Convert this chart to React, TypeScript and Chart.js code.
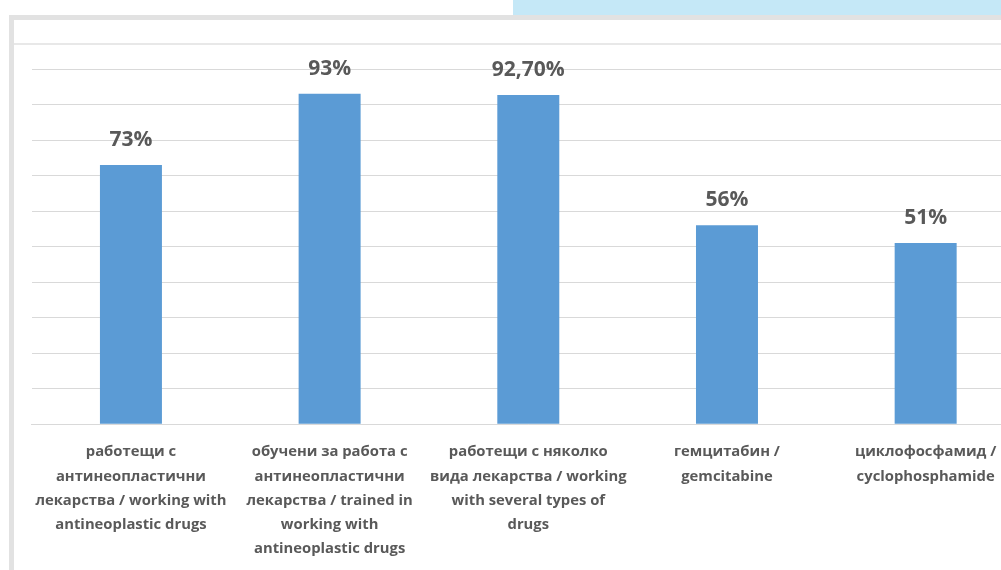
import React, { useEffect, useRef } from "react";
import { Chart, registerables } from "chart.js";

Chart.register(...registerables);

const categories: string[][] = [
  ["работещи с", "антинеопластични", "лекарства / working with", "antineoplastic drugs"],
  ["обучени за работа с", "антинеопластични", "лекарства / trained in", "working with", "antineoplastic drugs"],
  ["работещи с няколко", "вида лекарства / working", "with several types of", "drugs"],
  ["гемцитабин /", "gemcitabine"],
  ["циклофосфамид /", "cyclophosphamide"],
];
const values: number[] = [73, 93, 92.7, 56, 51];
const valueLabels: string[] = ["73%", "93%", "92,70%", "56%", "51%"];

const TEXT = "#595959";
const FONT = "'Open Sans', 'Noto Sans', sans-serif";

const valueLabelPlugin = {
  id: "valueLabels",
  afterDatasetsDraw(chart: any) {
    const ctx = chart.ctx;
    const meta = chart.getDatasetMeta(0);
    ctx.save();
    ctx.fillStyle = TEXT;
    ctx.font = `bold 21px ${FONT}`;
    ctx.textAlign = "center";
    ctx.textBaseline = "middle";
    meta.data.forEach((bar: any, i: number) => {
      ctx.fillText(valueLabels[i], bar.x, bar.y - 25);
    });
    ctx.restore();
  },
};

export default function App() {
  const ref = useRef<HTMLCanvasElement>(null);
  useEffect(() => {
    if (!ref.current) return;
    const chart = new Chart(ref.current, {
      type: "bar",
      data: {
        labels: categories,
        datasets: [
          {
            data: values,
            backgroundColor: "#5b9bd5",
            borderWidth: 0,
            barPercentage: 1,
            categoryPercentage: 0.312,
          },
        ],
      },
      options: {
        animation: false,
        responsive: false,
        devicePixelRatio: 1,
        layout: { padding: { left: 17.6, right: 5, top: 49, bottom: 0 } },
        plugins: { legend: { display: false }, tooltip: { enabled: false } },
        scales: {
          x: {
            grid: { display: false, drawTicks: false, tickLength: 0 },
            border: { display: true, color: "#d9d9d9", width: 1 },
            ticks: {
              color: TEXT,
              padding: 16,
              maxRotation: 0,
              autoSkip: false,
              font: { family: FONT, size: 14.8, weight: "bold", lineHeight: 1.633 },
            },
          },
          y: {
            min: 0,
            max: 100,
            ticks: { display: false, stepSize: 10 },
            grid: { color: "#d9d9d9", drawTicks: false, tickLength: 0 },
            border: { display: false },
          },
        },
      },
      plugins: [valueLabelPlugin],
    });
    return () => chart.destroy();
  }, []);

  return (
    <div
      style={{
        position: "fixed",
        left: 0,
        top: 0,
        width: 1001,
        height: 570,
        overflow: "hidden",
        background: "#ffffff",
      }}
    >
      <div style={{ position: "absolute", left: 513, top: 0, width: 488, height: 15, background: "#c5e8f7" }} />
      <div
        style={{
          position: "absolute",
          left: 9,
          top: 15,
          width: 1100,
          height: 600,
          borderLeft: "5px solid #e2e2e2",
          borderTop: "5px solid #e2e2e2",
        }}
      />
      <div style={{ position: "absolute", left: 14, top: 43, width: 1000, height: 2, background: "#e8e8e8" }} />
      <canvas
        ref={ref}
        width={1016}
        height={557}
        style={{ position: "absolute", left: 14, top: 20, width: 1016, height: 557, display: "block" }}
      />
    </div>
  );
}
